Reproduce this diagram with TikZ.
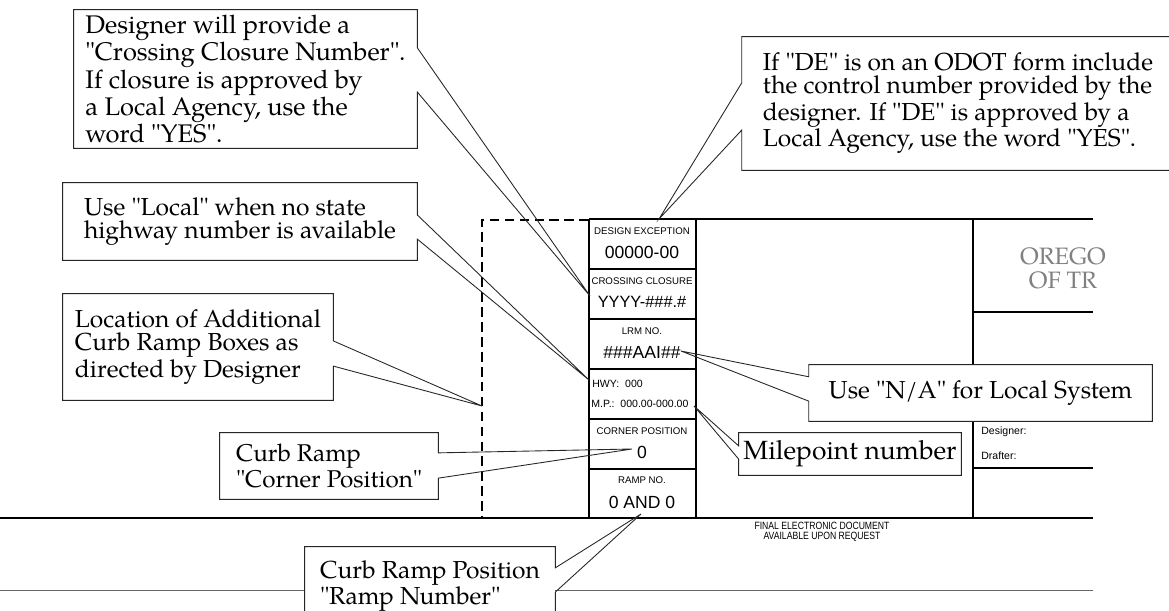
\documentclass[tikz,border=0pt]{standalone}
\usepackage{fontspec}
\setmainfont{TeX Gyre Pagella}[Ligatures=TeXOff]
\setsansfont{Liberation Sans}
\newfontfamily\narrowsans[FakeStretch=0.82]{Liberation Sans}
\usetikzlibrary{calc}

\begin{document}
\begin{tikzpicture}
  [
    x = 0.02cm, y = -0.02cm,
    frame/.style = {line width=0.8pt},
    dashed frame/.style = {line width=0.6pt, dash pattern=on 5.5pt off 3pt},
    cell head/.style = {inner sep=0, font=\sffamily\fontsize{5.5}{6}\selectfont},
    cell value/.style = {inner sep=0, font=\sffamily\fontsize{10}{12}\selectfont},
    cell small/.style = {inner sep=0, anchor=west, font=\sffamily\fontsize{6}{7}\selectfont},
    note/.style = {fill=white, inner sep=0, align=left, font=\fontsize{14}{13}\selectfont},
    note line/.style = {line width=0.5pt, draw=black!85},
  ]

  \useasboundingbox (0,0) rectangle (1169,611);
  \clip (0,0) rectangle (1169,611);

  % title block
  \draw [frame] (589,219) -- (1093,219);
  \draw [frame] (589,219) -- (589,518);
  \draw [frame] (696,219) -- (696,518);
  \draw [frame] (973,219) -- (973,518);
  \draw [frame] (973,312) -- (1093,312);
  \draw [frame] (973,468) -- (1093,468);
  \foreach \y in {269,319,369,419,469}
    \draw [frame] (589,\y) -- (696,\y);
  \draw [frame] (0,518) -- (1093,518);
  \draw [line width=0.5pt,black!60] (0,590) -- (1093,590);
  \draw [dashed frame] (589,220) -- (482,220) -- (482,518);

  \node [cell head]  (de head)  at (642,231) {DESIGN EXCEPTION};
  \node [cell value] (de val)   at (642,252) {00000-00};
  \node [cell head]  (cc head)  at (642,281) {CROSSING CLOSURE};
  \node [cell value,font=\sffamily\fontsize{9.3}{12}\selectfont] (cc val) at (642,302) {YYYY-\#\#\#.\#};
  \node [cell head]  (lrm head) at (642,331) {LRM NO.};
  \node [cell value] (lrm val)  at (642,352) {\#\#\#AAI\#\#};
  \node [cell small] (hwy)      at (592,384) {HWY:~~000};
  \node [cell small] (mp)       at (591,404) {M.P.:~~000.00-000.00};
  \node [cell head]  (cp head)  at (642,431) {CORNER POSITION};
  \node [cell value] (cp val)   at (642,452) {0};
  \node [cell head]  (rn head)  at (642,480) {RAMP NO.};
  \node [cell value] (rn val)   at (642,502) {0 AND 0};

  \node [align=center,text=black!50,font=\fontsize{13.5}{13.6}\selectfont] (agency) at (1063,268) {OREGO\\OF TR};
  \node [cell small] (designer) at (981,432) {Designer:};
  \node [cell small] (drafter)  at (981,456) {Drafter:};
  \node [inner sep=0,align=center,font=\narrowsans\fontsize{6}{5.8}\selectfont] (final) at (822,532)
    {FINAL ELECTRONIC DOCUMENT\\AVAILABLE UPON REQUEST};

  % points the notes refer to
  \coordinate (closure tip) at (590,296);
  \coordinate (local tip)   at (589,380);
  \coordinate (extra tip)   at (482,406);
  \coordinate (corner tip)  at (632,449);
  \coordinate (ramp tip)    at (641,514);
  \coordinate (de tip)      at (659,219);
  \coordinate (na tip)      at (681,351);
  \coordinate (mp tip)      at (694,406);

  % notes pointing right
  \node [note,font=\fontsize{14.5}{13}\selectfont,minimum width=6.86cm,minimum height=2.76cm] (closure note) at (245.5,79)
    {Designer will provide a\\"Crossing Closure Number".\\If closure is approved by\\a Local Agency, use the\\word "YES".};
  \draw [note line] (closure note.north west) -- (closure note.north east)
    -- ($(closure note.north east)!.275!(closure note.south east)$) -- (closure tip)
    -- ($(closure note.north east)!.594!(closure note.south east)$) -- (closure note.south east)
    -- (closure note.south west) -- cycle;

  \node [note,minimum width=7.08cm,minimum height=1.54cm] (local note) at (240,221.5)
    {Use "Local" when no state\\highway number is available};
  \draw [note line] (local note.north west) -- (local note.north east)
    -- ($(local note.north east)!.416!(local note.south east)$) -- (local tip)
    -- ($(local note.north east)!.727!(local note.south east)$) -- (local note.south east)
    -- (local note.south west) -- cycle;

  \node [note,minimum width=5.4cm,minimum height=2.12cm] (extra note) at (198,347)
    {Location of Additional\\Curb Ramp Boxes as\\directed by Designer};
  \draw [note line] (extra note.north west) -- (extra note.north east)
    -- ($(extra note.north east)!.443!(extra note.south east)$) -- (extra tip)
    -- ($(extra note.north east)!.679!(extra note.south east)$) -- (extra note.south east)
    -- (extra note.south west) -- cycle;

  \node [note,font=\fontsize{13.8}{13}\selectfont,minimum width=4.36cm,minimum height=1.32cm] (corner note) at (329,466)
    {Curb Ramp\\"Corner Position"};
  \draw [note line] (corner note.north west) -- (corner note.north east)
    -- ($(corner note.north east)!.303!(corner note.south east)$) -- (corner tip)
    -- ($(corner note.north east)!.682!(corner note.south east)$) -- (corner note.south east)
    -- (corner note.south west) -- cycle;

  \node [note,minimum width=5cm,minimum height=1.56cm] (ramp note) at (430,586)
    {Curb Ramp Position\\"Ramp Number"};
  \draw [note line] (ramp note.north west) -- (ramp note.north east)
    -- ($(ramp note.north east)!.269!(ramp note.south east)$) -- (ramp tip)
    -- ($(ramp note.north east)!.577!(ramp note.south east)$) -- (ramp note.south east)
    -- (ramp note.south west) -- cycle;

  % notes pointing left
  \node [note,minimum width=8.64cm,minimum height=2.66cm] (de note) at (958,103.5)
    {If "DE" is on an ODOT form include\\the control number provided by the\\designer. If "DE" is approved by a\\Local Agency, use the word "YES".};
  \draw [note line] (de note.north west) -- (de note.north east) -- (de note.south east)
    -- (de note.south west) -- ($(de note.north west)!.699!(de note.south west)$) -- (de tip)
    -- ($(de note.north west)!.346!(de note.south west)$) -- cycle;

  \node [note,minimum width=6.86cm,minimum height=1.12cm] (na note) at (980.5,393)
    {Use "N/A" for Local System};
  \draw [note line] (na note.north west) -- (na note.north east) -- (na note.south east)
    -- (na note.south west) -- ($(na note.north west)!.643!(na note.south west)$) -- (na tip)
    -- ($(na note.north west)!.214!(na note.south west)$) -- cycle;

  \node [note,font=\fontsize{15}{13}\selectfont,minimum width=4.44cm,minimum height=0.84cm] (mp note) at (850,454)
    {Milepoint number};
  \draw [note line] (mp note.north west) -- (mp note.north east) -- (mp note.south east)
    -- (mp note.south west) -- ($(mp note.north west)!.62!(mp note.south west)$) -- (mp tip)
    -- ($(mp note.north west)!.31!(mp note.south west)$) -- cycle;

\end{tikzpicture}
\end{document}
